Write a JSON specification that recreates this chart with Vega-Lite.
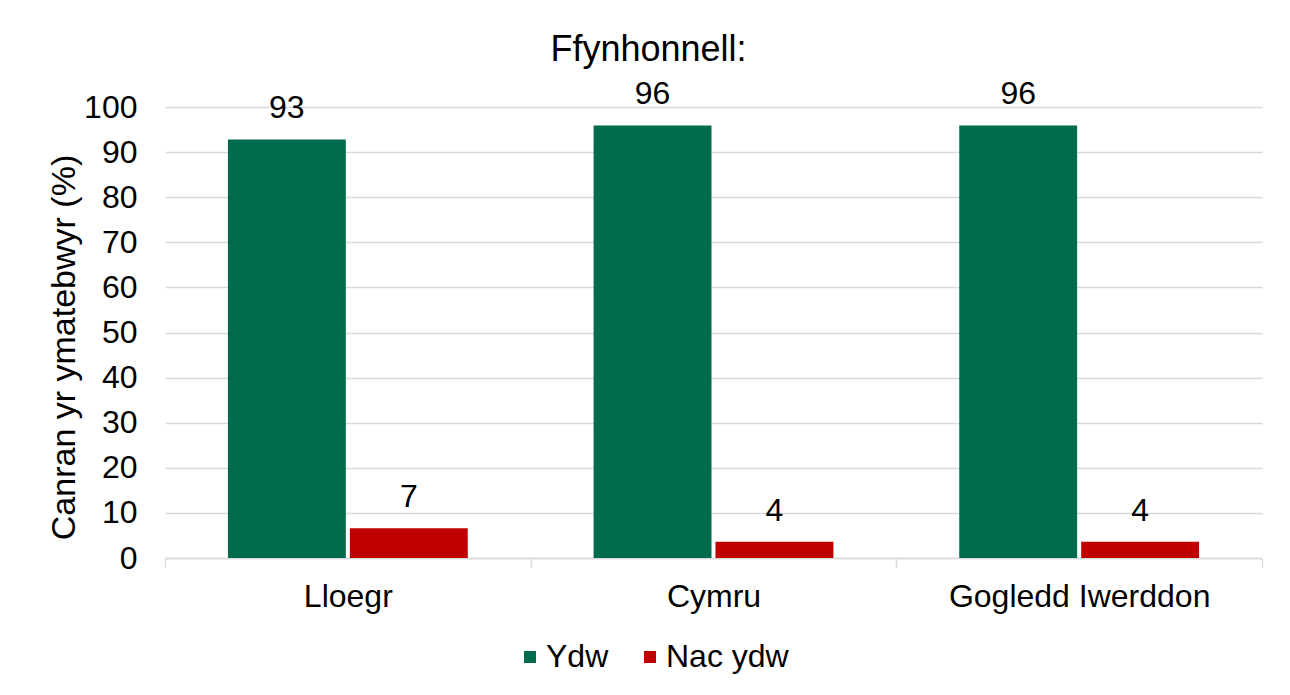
{
  "$schema": "https://vega.github.io/schema/vega-lite/v6.json",
  "width": 1097,
  "height": 451,
  "autosize": {"type": "none"},
  "padding": {"left": 165, "top": 107, "right": 28, "bottom": 137},
  "background": "white",
  "config": {"font": "Liberation Sans", "view": {"stroke": null}},
  "title": {"text": "Ffynhonnell:", "fontSize": 36, "fontWeight": "normal", "color": "#000000", "anchor": "middle", "frame": "group", "dx": -65, "offset": 9},
  "data": {"values": [
    {"country": "Lloegr", "response": "Ydw", "value": 92.8},
    {"country": "Lloegr", "response": "Nac ydw", "value": 6.6},
    {"country": "Cymru", "response": "Ydw", "value": 95.9},
    {"country": "Cymru", "response": "Nac ydw", "value": 3.6},
    {"country": "Gogledd Iwerddon", "response": "Ydw", "value": 95.9},
    {"country": "Gogledd Iwerddon", "response": "Nac ydw", "value": 3.6}
  ]},
  "encoding": {
    "x": {
      "field": "country", "type": "nominal",
      "sort": ["Lloegr", "Cymru", "Gogledd Iwerddon"],
      "scale": {"paddingInner": 0, "paddingOuter": 0},
      "axis": {"title": null, "labelAngle": 0, "labelFontSize": 32, "labelLimit": 0, "labelColor": "#000000", "labelPadding": 14, "tickBand": "extent", "tickSize": 9, "tickColor": "#d9d9d9", "tickWidth": 1.5, "domainColor": "#d9d9d9", "domainWidth": 1.5, "grid": false}
    },
    "xOffset": {"field": "response", "type": "nominal", "sort": ["Ydw", "Nac ydw"], "scale": {"paddingInner": 0.033, "paddingOuter": 0.516}},
    "y": {
      "field": "value", "type": "quantitative",
      "scale": {"domain": [0, 100]},
      "axis": {"values": [0, 10, 20, 30, 40, 50, 60, 70, 80, 90, 100], "title": "Canran yr ymatebwyr (%)", "titleFontSize": 34, "titleFontWeight": "normal", "titleColor": "#000000", "titleX": -91, "titleY": 240, "titleAngle": -90, "titleBaseline": "alphabetic", "titleAlign": "center", "labelFontSize": 32, "labelColor": "#000000", "labelPadding": 28, "ticks": false, "domain": false, "grid": true, "gridColor": "#d9d9d9", "gridWidth": 1.5}
    }
  },
  "layer": [
    {
      "mark": {"type": "bar"},
      "encoding": {
        "color": {
          "field": "response", "type": "nominal",
          "sort": ["Ydw", "Nac ydw"],
          "scale": {"domain": ["Ydw", "Nac ydw"], "range": ["#006B4D", "#C00000"]},
          "legend": {"title": null, "orient": "none", "legendX": 349, "legendY": 534, "direction": "horizontal", "symbolType": "square", "symbolSize": 144, "symbolStrokeWidth": 0, "labelFontSize": 32, "labelColor": "#000000", "labelOffset": 0, "columnPadding": 25, "padding": 0}
        }
      }
    },
    {
      "mark": {"type": "text", "baseline": "alphabetic", "dy": -21, "fontSize": 32, "color": "#000000"},
      "encoding": {"text": {"field": "value", "type": "quantitative", "format": ".0f"}}
    }
  ]
}
